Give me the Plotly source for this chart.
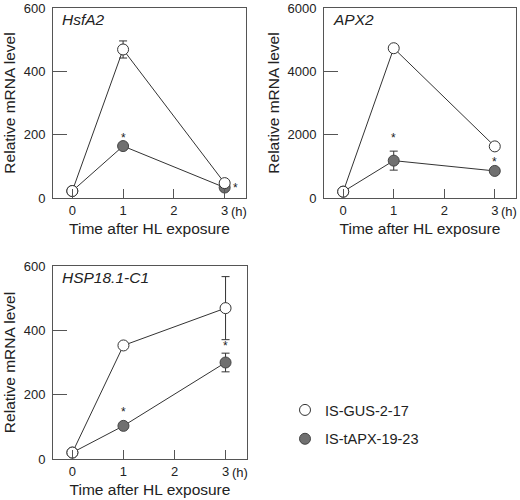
import plotly.graph_objects as go

# ---------------- data ----------------
times = [0, 1, 3]
x_tickvals = [0, 1, 2, 3]
x_ticktext = ["0", "1", "2", "3"]

genes = ["HsfA2", "APX2", "HSP18.1-C1"]
series_names = ["IS-GUS-2-17", "IS-tAPX-19-23"]

# HsfA2
hsfa2_gus = [22, 469, 47]
hsfa2_gus_err = [0, 27, 0]
hsfa2_tapx = [22, 164, 33]
hsfa2_tapx_err = [0, 0, 0]

# APX2
apx2_gus = [200, 4730, 1630]
apx2_gus_err = [0, 0, 0]
apx2_tapx = [200, 1180, 855]
apx2_tapx_err = [0, 300, 0]

# HSP18.1-C1
hsp_gus = [20, 353, 469]
hsp_gus_err = [0, 0, 98]
hsp_tapx = [20, 103, 300]
hsp_tapx_err = [0, 0, 29]

y_ranges = [[0, 600], [0, 6000], [0, 600]]
y_tickvals = [[0, 200, 400, 600], [0, 2000, 4000, 6000], [0, 200, 400, 600]]

# significance asterisks (x, y) per panel
stars = [
    [(1, 190), (3.22, 33)],
    [(1, 1900), (3, 1150)],
    [(1, 145), (3, 350)],
]

# ---------------- style ----------------
FONT = "Liberation Sans, Arial, Helvetica, sans-serif"
TXT = "#222222"
AX = "#555555"
LINE = "#333333"
FILL = "#707070"

panels = [
    dict(gus=hsfa2_gus, gus_err=hsfa2_gus_err, tapx=hsfa2_tapx, tapx_err=hsfa2_tapx_err),
    dict(gus=apx2_gus, gus_err=apx2_gus_err, tapx=apx2_tapx, tapx_err=apx2_tapx_err),
    dict(gus=hsp_gus, gus_err=hsp_gus_err, tapx=hsp_tapx, tapx_err=hsp_tapx_err),
]

W, H = 520, 500
# pixel boxes: left, right, top, bottom
boxes = [(53, 246, 8, 198), (324, 516, 8, 198), (53, 247, 266, 459)]

fig = go.Figure()

for i, p in enumerate(panels):
    xa = "x" if i == 0 else f"x{i+1}"
    ya = "y" if i == 0 else f"y{i+1}"
    # filled series first (drawn beneath)
    fig.add_trace(go.Scatter(
        x=times, y=p["tapx"], xaxis=xa, yaxis=ya, mode="lines+markers",
        line=dict(color=LINE, width=1),
        marker=dict(size=11, color=FILL, line=dict(color="#444444", width=1)),
        error_y=dict(type="data", array=p["tapx_err"], visible=True,
                     color=LINE, thickness=1, width=4),
        showlegend=False, name=series_names[1], cliponaxis=False))
    fig.add_trace(go.Scatter(
        x=times, y=p["gus"], xaxis=xa, yaxis=ya, mode="lines+markers",
        line=dict(color=LINE, width=1),
        marker=dict(size=11, color="white", line=dict(color="#333333", width=1)),
        error_y=dict(type="data", array=p["gus_err"], visible=True,
                     color=LINE, thickness=1, width=4),
        showlegend=False, name=series_names[0], cliponaxis=False))

# legend entries
fig.add_trace(go.Scatter(x=[None], y=[None], mode="markers", name=series_names[0],
                         marker=dict(size=11, color="white", line=dict(color="#333333", width=1)),
                         legendgroup="a"))
fig.add_trace(go.Scatter(x=[None], y=[None], mode="markers", name=series_names[1],
                         marker=dict(size=11, color=FILL, line=dict(color="#444444", width=1)),
                         legendgroup="b"))

layout = dict(
    width=W, height=H,
    margin=dict(l=0, r=0, t=0, b=0, autoexpand=False),
    paper_bgcolor="white", plot_bgcolor="white",
    font=dict(family=FONT, color=TXT, size=13),
    legend=dict(x=285 / W, y=1 - 394 / H, xanchor="left", yanchor="top",
                font=dict(size=14.5, color=TXT), tracegroupgap=7,
                bgcolor="rgba(0,0,0,0)", itemwidth=30),
    annotations=[],
)

for i, (l, r, t, b) in enumerate(boxes):
    xk = "xaxis" if i == 0 else f"xaxis{i+1}"
    yk = "yaxis" if i == 0 else f"yaxis{i+1}"
    xa = "x" if i == 0 else f"x{i+1}"
    ya = "y" if i == 0 else f"y{i+1}"
    layout[xk] = dict(
        domain=[l / W, r / W], anchor=ya, range=[-0.38, 3.42], automargin=False,
        tickvals=x_tickvals, ticktext=x_ticktext, ticks="inside", ticklen=9,
        tickcolor=AX, showline=True, linecolor=AX, linewidth=1, mirror=True,
        showgrid=False, zeroline=False, tickfont=dict(size=13, color=TXT),
        ticklabeloverflow="allow",
        title=dict(text="Time after HL exposure", font=dict(size=15.5, color=TXT), standoff=6),
    )
    layout[yk] = dict(
        domain=[1 - b / H, 1 - t / H], anchor=xa, range=y_ranges[i], automargin=False,
        tickvals=y_tickvals[i], ticks="inside", ticklen=14,
        tickcolor=AX, showline=True, linecolor=AX, linewidth=1, mirror=True,
        showgrid=False, zeroline=False, tickfont=dict(size=13, color=TXT),
        ticklabelstandoff=4, ticklabeloverflow="allow",
        title=dict(text="Relative mRNA level", font=dict(size=15.5, color=TXT), standoff=4),
    )
    # gene name
    layout["annotations"].append(dict(
        text=f"<i>{genes[i]}</i>", xref=f"{xa} domain", yref=f"{ya} domain",
        x=7 / (r - l), y=1 - 11 / (b - t), xanchor="left", yanchor="middle",
        showarrow=False, font=dict(size=15.5, color=TXT)))
    # (h) unit label
    layout["annotations"].append(dict(
        text="(h)", xref=xa, yref=f"{ya} domain", x=3, y=-13 / (b - t),
        xshift=14, xanchor="center", yanchor="middle", showarrow=False,
        font=dict(size=13, color=TXT)))
    # asterisks
    for sx, sy in stars[i]:
        layout["annotations"].append(dict(
            text="*", xref=xa, yref=ya, x=sx, y=sy, xanchor="center", yanchor="middle",
            showarrow=False, font=dict(size=12, color=TXT)))

fig.update_layout(**layout)
fig.write_html("out.html", config={"displayModeBar": False},
               post_script="document.body.style.margin='0px';document.body.style.overflow='hidden';")
